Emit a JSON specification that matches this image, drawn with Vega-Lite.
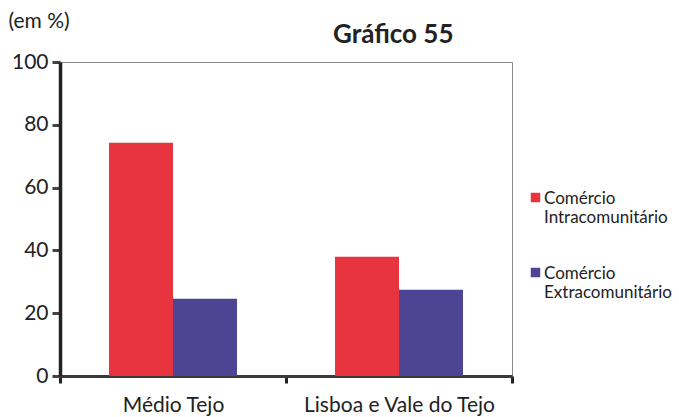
{
  "$schema": "https://vega.github.io/schema/vega-lite/v6.json",
  "autosize": {"type": "none"},
  "width": 452,
  "height": 314,
  "padding": {"left": 60, "top": 62, "right": 167, "bottom": 41},
  "background": "white",
  "config": {
    "font": "Lato",
    "view": {"stroke": "#8a8a8a", "strokeWidth": 1}
  },
  "title": {
    "text": "Gráfico 55",
    "anchor": "start",
    "frame": "group",
    "dx": 273,
    "dy": 77,
    "offset": 13,
    "baseline": "bottom",
    "fontSize": 26,
    "fontWeight": "bold",
    "color": "#222"
  },
  "data": {
    "values": [
      {"regiao": "Médio Tejo", "serie": "Comércio Intracomunitário", "valor": 74.3},
      {"regiao": "Médio Tejo", "serie": "Comércio Extracomunitário", "valor": 24.6},
      {"regiao": "Lisboa e Vale do Tejo", "serie": "Comércio Intracomunitário", "valor": 38.0},
      {"regiao": "Lisboa e Vale do Tejo", "serie": "Comércio Extracomunitário", "valor": 27.5}
    ]
  },
  "mark": {"type": "bar"},
  "encoding": {
    "x": {
      "field": "regiao",
      "type": "nominal",
      "sort": ["Médio Tejo", "Lisboa e Vale do Tejo"],
      "scale": {"paddingInner": 0, "paddingOuter": 0},
      "axis": {
        "title": null,
        "labelAngle": 0,
        "labelFontSize": 21,
        "labelLimit": 400,
        "labelColor": "#222",
        "labelPadding": 11,
        "tickBand": "extent",
        "tickSize": 7,
        "tickWidth": 3,
        "tickColor": "#222",
        "domainColor": "#3a3a3a",
        "domainWidth": 3
      }
    },
    "xOffset": {
      "field": "serie",
      "type": "nominal",
      "sort": ["Comércio Intracomunitário", "Comércio Extracomunitário"],
      "scale": {"paddingInner": 0, "paddingOuter": 0.766}
    },
    "y": {
      "field": "valor",
      "type": "quantitative",
      "scale": {"domain": [0, 100], "nice": false},
      "axis": {
        "values": [0, 20, 40, 60, 80, 100],
        "grid": false,
        "title": "(em %)",
        "titleAngle": 0,
        "titleAlign": "left",
        "titleBaseline": "alphabetic",
        "titleX": -52,
        "titleY": -35,
        "titleFontSize": 21,
        "titleFontWeight": "normal",
        "titleColor": "#222",
        "labelFontSize": 21,
        "labelColor": "#222",
        "labelPadding": 4,
        "tickSize": 8,
        "tickWidth": 3,
        "tickColor": "#444",
        "domainColor": "#222",
        "domainWidth": 3.5,
        "encode": {"title": {"update": {"fontSize": {"value": 21}}}}
      }
    },
    "color": {
      "field": "serie",
      "type": "nominal",
      "sort": ["Comércio Intracomunitário", "Comércio Extracomunitário"],
      "scale": {"range": ["#e8343f", "#4d4494"]},
      "legend": {
        "title": null,
        "orient": "none",
        "legendX": 467,
        "legendY": 127,
        "symbolType": "square",
        "symbolSize": 90,
        "symbolStrokeWidth": 0,
        "labelFontSize": 17,
        "labelColor": "#222",
        "labelOffset": 0,
        "labelBaseline": "top",
        "labelExpr": "split(datum.label, ' ')",
        "rowPadding": 38,
        "encode": {"labels": {"update": {"dy": {"value": -7}}}}
      }
    }
  }
}
